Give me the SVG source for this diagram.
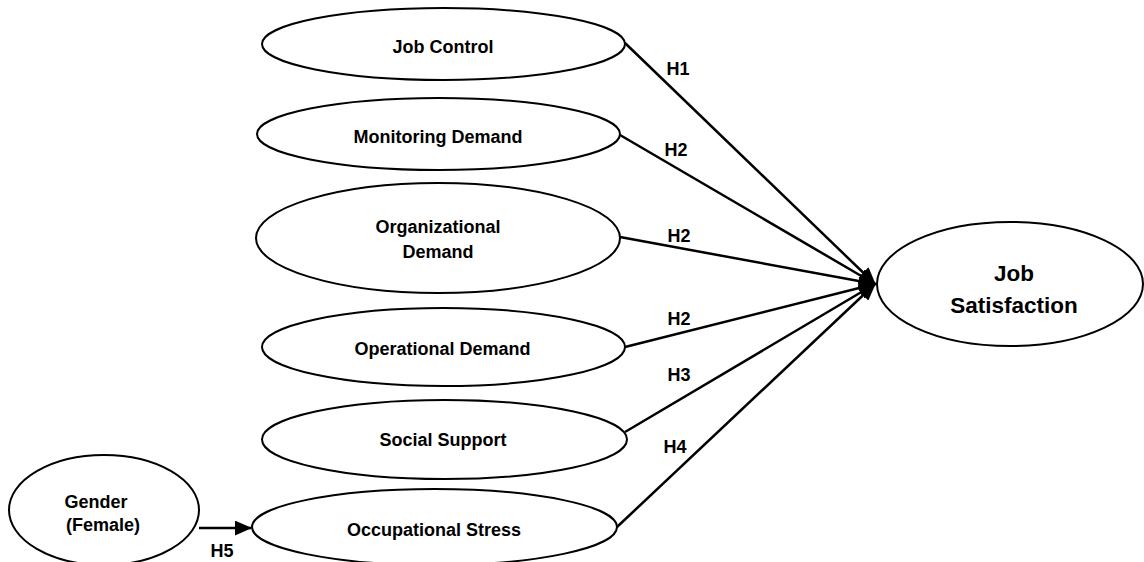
<svg xmlns="http://www.w3.org/2000/svg" width="1144" height="562" viewBox="0 0 1144 562">
  <style>
    .node ellipse { fill: #ffffff; stroke: #000000; stroke-width: 2; }
    .label { font-family: "Liberation Sans", Arial, sans-serif; font-weight: bold; font-size: 18px; fill: #000000; text-anchor: middle; }
    .big { font-size: 22.5px; }
    .edge { stroke: #000000; stroke-width: 2.5; fill: none; marker-end: url(#arrow); }
  </style>
  <defs>
    <marker id="arrow" markerWidth="7" markerHeight="6" refX="6.5" refY="3" orient="auto" markerUnits="strokeWidth">
      <path d="M0,0 L7,3 L0,6 Z" fill="#000000"/>
    </marker>
  </defs>
  <rect width="1144" height="562" fill="#ffffff"/>

  <!-- connectors -->
  <g id="edges">
    <line class="edge" x1="625" y1="43" x2="875" y2="284"/>
    <line class="edge" x1="620" y1="135" x2="875" y2="284"/>
    <line class="edge" x1="620" y1="237" x2="875" y2="284"/>
    <line class="edge" x1="625" y1="347" x2="875" y2="284"/>
    <line class="edge" x1="625" y1="432" x2="875" y2="284"/>
    <line class="edge" x1="617" y1="527" x2="875" y2="284"/>
    <line class="edge" x1="199" y1="528" x2="251" y2="528"/>
    <text class="label" x="678" y="75">H1</text>
    <text class="label" x="676" y="156">H2</text>
    <text class="label" x="679" y="242">H2</text>
    <text class="label" x="679" y="325">H2</text>
    <text class="label" x="679" y="381">H3</text>
    <text class="label" x="675" y="453">H4</text>
    <text class="label" x="222" y="557">H5</text>
  </g>

  <g id="job-control" class="node">
    <ellipse cx="443.5" cy="44" rx="181.5" ry="36"/>
    <text class="label" x="443" y="53">Job Control</text>
  </g>

  <g id="monitoring-demand" class="node">
    <ellipse cx="438.5" cy="134" rx="181.5" ry="36"/>
    <text class="label" x="438" y="143">Monitoring Demand</text>
  </g>

  <g id="organizational-demand" class="node">
    <ellipse cx="438" cy="238" rx="182" ry="55"/>
    <text class="label" x="438" y="233">Organizational</text>
    <text class="label" x="438" y="258">Demand</text>
  </g>

  <g id="operational-demand" class="node">
    <ellipse cx="443.5" cy="347" rx="181.5" ry="39"/>
    <text class="label" x="442.5" y="355">Operational Demand</text>
  </g>

  <g id="social-support" class="node">
    <ellipse cx="444.5" cy="439.5" rx="182.5" ry="39.5"/>
    <text class="label" x="443" y="446">Social Support</text>
  </g>

  <g id="occupational-stress" class="node">
    <ellipse cx="434.5" cy="527" rx="182.5" ry="38"/>
    <text class="label" x="434" y="536">Occupational Stress</text>
  </g>

  <g id="gender" class="node">
    <ellipse cx="104" cy="510" rx="95" ry="55"/>
    <text class="label" x="96" y="508">Gender</text>
    <text class="label" x="103" y="531">(Female)</text>
  </g>

  <g id="job-satisfaction" class="node">
    <ellipse cx="1010" cy="284" rx="133" ry="62"/>
    <text class="label big" x="1014" y="281">Job</text>
    <text class="label big" x="1014" y="313">Satisfaction</text>
  </g>
</svg>
